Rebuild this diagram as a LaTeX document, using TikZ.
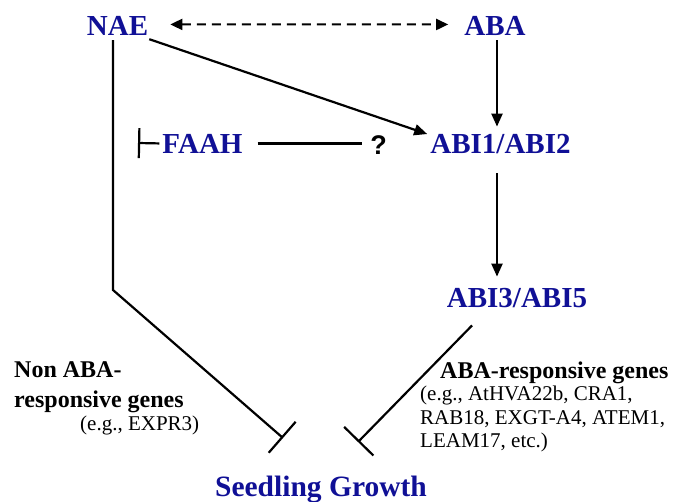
\documentclass[tikz,border=0pt]{standalone}
\usepackage{fontspec}
\setmainfont{Liberation Serif}
\newfontfamily\qfont{Liberation Sans}
\usetikzlibrary{arrows.meta,calc}
\definecolor{nblue}{RGB}{16,16,150}
\begin{document}
\begin{tikzpicture}[x=1pt,y=-1pt,
  lbl/.style={font=\fontsize{29}{33}\selectfont\bfseries, text=nblue, inner sep=0pt, anchor=base},
  note/.style={font=\fontsize{24}{28}\selectfont\bfseries, inner sep=0pt, anchor=base west},
  small/.style={font=\fontsize{21}{24}\selectfont, inner sep=0pt, anchor=base west},
  conn/.style={line width=2.2pt},
  arr/.style={conn, -{Triangle[length=13pt,width=11pt]}},
  darr/.style={conn, line width=2pt, dash pattern=on 9pt off 6pt, {Triangle[length=12pt,width=11pt]}-{Triangle[length=12pt,width=11pt]}},
  tee/.style={conn, -{Bar[width=41pt]}}
]
\useasboundingbox (0,0) rectangle (675,501);

% nodes
\node[lbl] (nae) at (117.5,35) {NAE};
\node[lbl] (aba) at (495,35) {ABA};
\node[lbl] (abi12) at (500.5,153) {ABI1/ABI2};
\node[lbl] (abi35) at (517,307) {ABI3/ABI5};
\node[lbl] (faah) at (202.5,153) {FAAH};
\node[inner sep=0pt, anchor=base, font=\qfont\bfseries\fontsize{27}{30}\selectfont] (q) at (378.5,154) {?};
\node[lbl, font=\fontsize{29.5}{33}\selectfont\bfseries] (sg) at (321,496) {Seedling Growth};

\node[note] (non1) at (14,377) {Non ABA-};
\node[note] (non2) at (14,407) {responsive genes};
\node[small] (expr) at (80,430) {(e.g., EXPR3)};
\node[note] (resp) at (440,378) {ABA-responsive genes};
\node[small] (g1) at (420,400) {(e.g., AtHVA22b, CRA1,};
\node[small] (g2) at (420,424) {RAB18, EXGT-A4, ATEM1,};
\node[small] (g3) at (420,447) {LEAM17, etc.)};

% helper coordinates
\coordinate (bendL) at (113,290);
\coordinate (teeL) at (283,438);
\coordinate (teeR) at (358,442);
\coordinate (faahT) at (138,143);

% connectors
\draw[darr] ($(nae.east)+(22,-1)$) -- ($(aba.west)+(-16,-1)$);
\draw[arr] ($(nae.south east)+(1,4)$) -- ($(abi12.west)+(-3,-9.5)$);
\draw[arr] ($(aba.south)+(2,5)$) -- ($(aba.south |- abi12.north)+(2,-7)$);
\draw[arr] ($(abi12.south)+(-3.5,20)$) -- ($(abi12.south |- abi35.north)+(-3.5,-11)$);
\draw[conn] ($(faah.east)+(15,0)$) -- ($(q.west |- faah.east)+(-8,0)$);
\draw[conn, -{Bar[width=30pt]}] ($(faah.west)+(-3,0)$) -- (faahT);
\draw[tee] ($(nae.south)+(-4.5,5)$) -- (bendL) -- (teeL);
\draw[tee] ($(abi35.south)+(-45,18)$) -- (teeR);
\end{tikzpicture}
\end{document}
